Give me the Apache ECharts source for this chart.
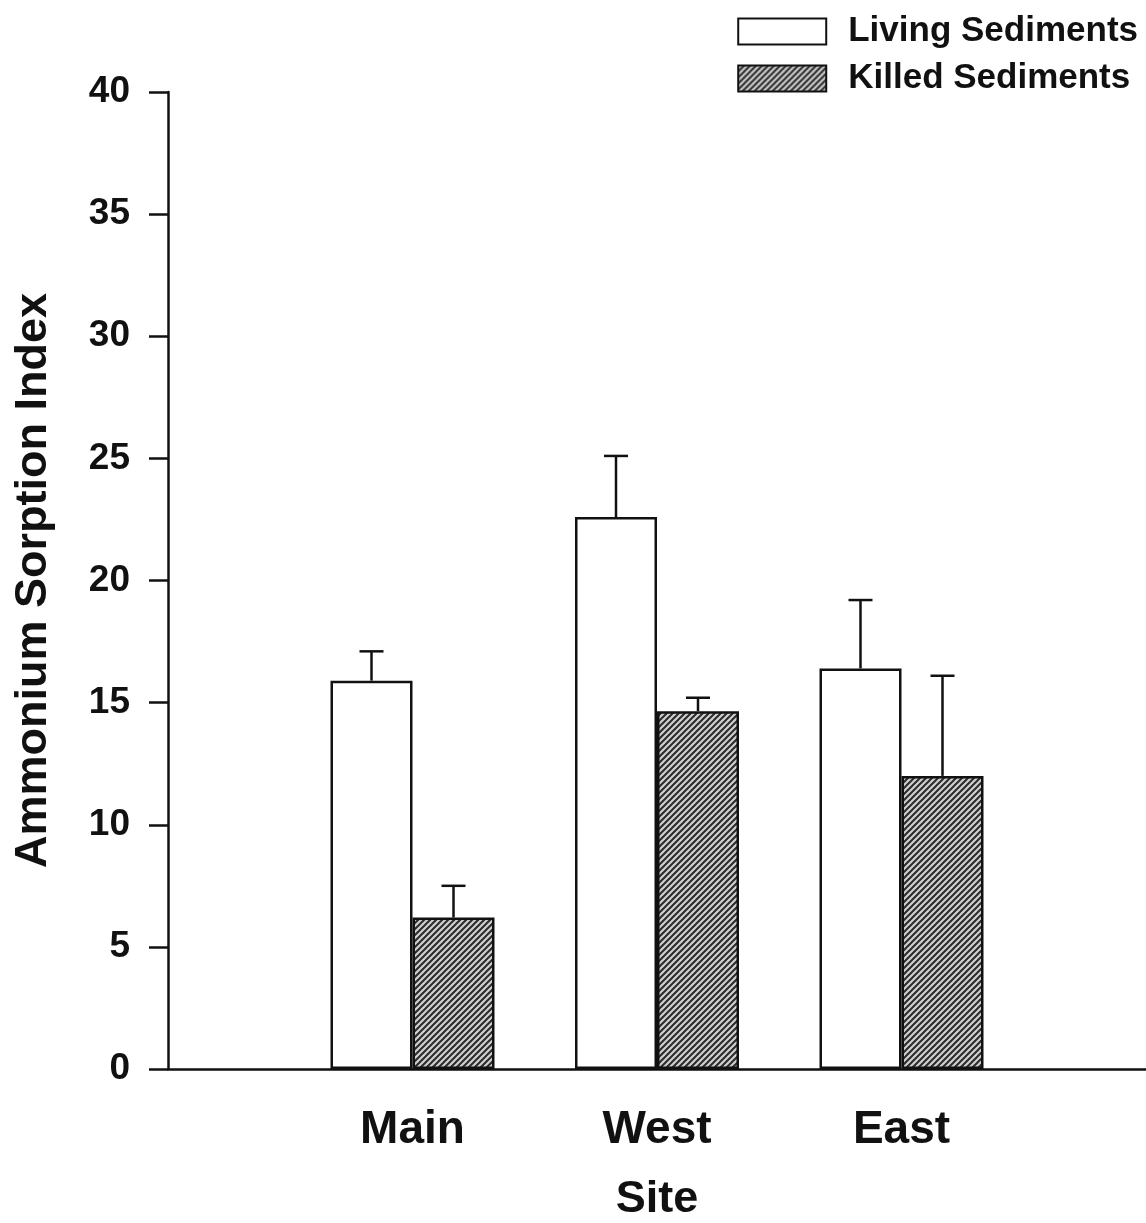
<!DOCTYPE html>
<html>
<head>
<meta charset="utf-8">
<script src="https://cdn.jsdelivr.net/npm/echarts@6/dist/echarts.min.js"></script>
<style>
    html, body { margin: 0; padding: 0; background: #fff; }
    #chart { width: 1146px; height: 1223px; }
</style>
</head>
<body>
<div id="chart"></div>
<script>
const categories = ['Main', 'West', 'East'];
const livingMean = [15.9, 22.6, 16.4];
const livingSE = [1.2, 2.5, 2.8];
const killedMean = [6.2, 14.65, 12.0];
const killedSE = [1.3, 0.55, 4.1];
const seriesNames = ['Living Sediments', 'Killed Sediments'];

(function () {
    const myChart = echarts.init(document.getElementById('chart'));
    const font = 'Arial, "Liberation Sans", sans-serif';

    // hatch pattern for killed sediments
    const tile = document.createElement('canvas');
    tile.width = 6;
    tile.height = 6;
    const ctx = tile.getContext('2d');
    ctx.fillStyle = '#cfcfcf';
    ctx.fillRect(0, 0, 6, 6);
    ctx.strokeStyle = '#2a2a2a';
    ctx.lineWidth = 2;
    ctx.beginPath();
    ctx.moveTo(0, 6); ctx.lineTo(6, 0);
    ctx.moveTo(-1, 1); ctx.lineTo(1, -1);
    ctx.moveTo(5, 7); ctx.lineTo(7, 5);
    ctx.stroke();

    // empty slot on each side so the sites sit at 1, 2, 3
    const axisCats = [''].concat(categories, ['']);
    const pad = arr => [null].concat(arr, [null]);

    const barW = 82;

    function errorSeries(mean, se, offset) {
        return {
            type: 'custom',
            silent: true,
            z: 5,
            data: mean.map((m, i) => [i + 1, m, m + se[i]]),
            renderItem: function (params, api) {
                const base = api.coord([api.value(0), api.value(1)]);
                const top = api.coord([api.value(0), api.value(2)]);
                const cx = base[0] + offset;
                const st = { stroke: '#111', lineWidth: 2.5 };
                return {
                    type: 'group',
                    children: [
                        { type: 'line', shape: { x1: cx, y1: base[1], x2: cx, y2: top[1] }, style: st },
                        { type: 'line', shape: { x1: cx - 12, y1: top[1], x2: cx + 12, y2: top[1] }, style: st }
                    ]
                };
            }
        };
    }

    const option = {
        backgroundColor: '#fff',
        animation: false,
        textStyle: { fontFamily: font, color: '#111', fontWeight: 'bold' },
        legend: {
            orient: 'vertical',
            right: 8,
            top: 14,
            padding: 0,
            itemWidth: 88,
            itemHeight: 26,
            itemGap: 12,
            icon: 'rect',
            data: seriesNames,
            textStyle: { fontFamily: font, fontSize: 35, fontWeight: 'bold', color: '#111', padding: [0, 0, 0, 17] }
        },
        grid: { left: 168, right: 0, top: 92, bottom: 154, containLabel: false, outerBoundsMode: 'none' },
        xAxis: {
            type: 'category',
            data: axisCats,
            boundaryGap: false,
            name: 'Site',
            nameLocation: 'middle',
            nameGap: 108,
            nameTextStyle: { fontFamily: font, fontSize: 45, fontWeight: 'bold', color: '#111' },
            axisLine: { lineStyle: { color: '#111', width: 2.5 } },
            axisTick: { show: false },
            axisLabel: { interval: 0, margin: 38, fontFamily: font, fontSize: 46, fontWeight: 'bold', color: '#111' },
            splitLine: { show: false }
        },
        yAxis: {
            type: 'value',
            min: 0,
            max: 40,
            interval: 5,
            name: 'Ammonium Sorption Index',
            nameLocation: 'middle',
            nameGap: 112,
            nameRotate: 90,
            nameTextStyle: { fontFamily: font, fontSize: 45, fontWeight: 'bold', color: '#111' },
            axisLine: { show: true, lineStyle: { color: '#111', width: 2.5 } },
            axisTick: { show: true, inside: false, length: 19, lineStyle: { color: '#111', width: 2.5 } },
            axisLabel: { margin: 38, fontFamily: font, fontSize: 37, fontWeight: 'bold', color: '#111' },
            splitLine: { show: false }
        },
        series: [
            {
                name: seriesNames[0],
                type: 'bar',
                data: pad(livingMean),
                barWidth: barW,
                barGap: 0,
                itemStyle: { color: '#fff', borderColor: '#111', borderWidth: 2.5 }
            },
            {
                name: seriesNames[1],
                type: 'bar',
                data: pad(killedMean),
                barWidth: barW,
                barGap: 0,
                itemStyle: { color: { image: tile, repeat: 'repeat' }, borderColor: '#111', borderWidth: 2.5 }
            },
            errorSeries(livingMean, livingSE, -barW / 2),
            errorSeries(killedMean, killedSE, barW / 2)
        ]
    };

    myChart.setOption(option);
    window.addEventListener('resize', function () {
        myChart.resize();
    });
})();
</script>
</body>
</html>
